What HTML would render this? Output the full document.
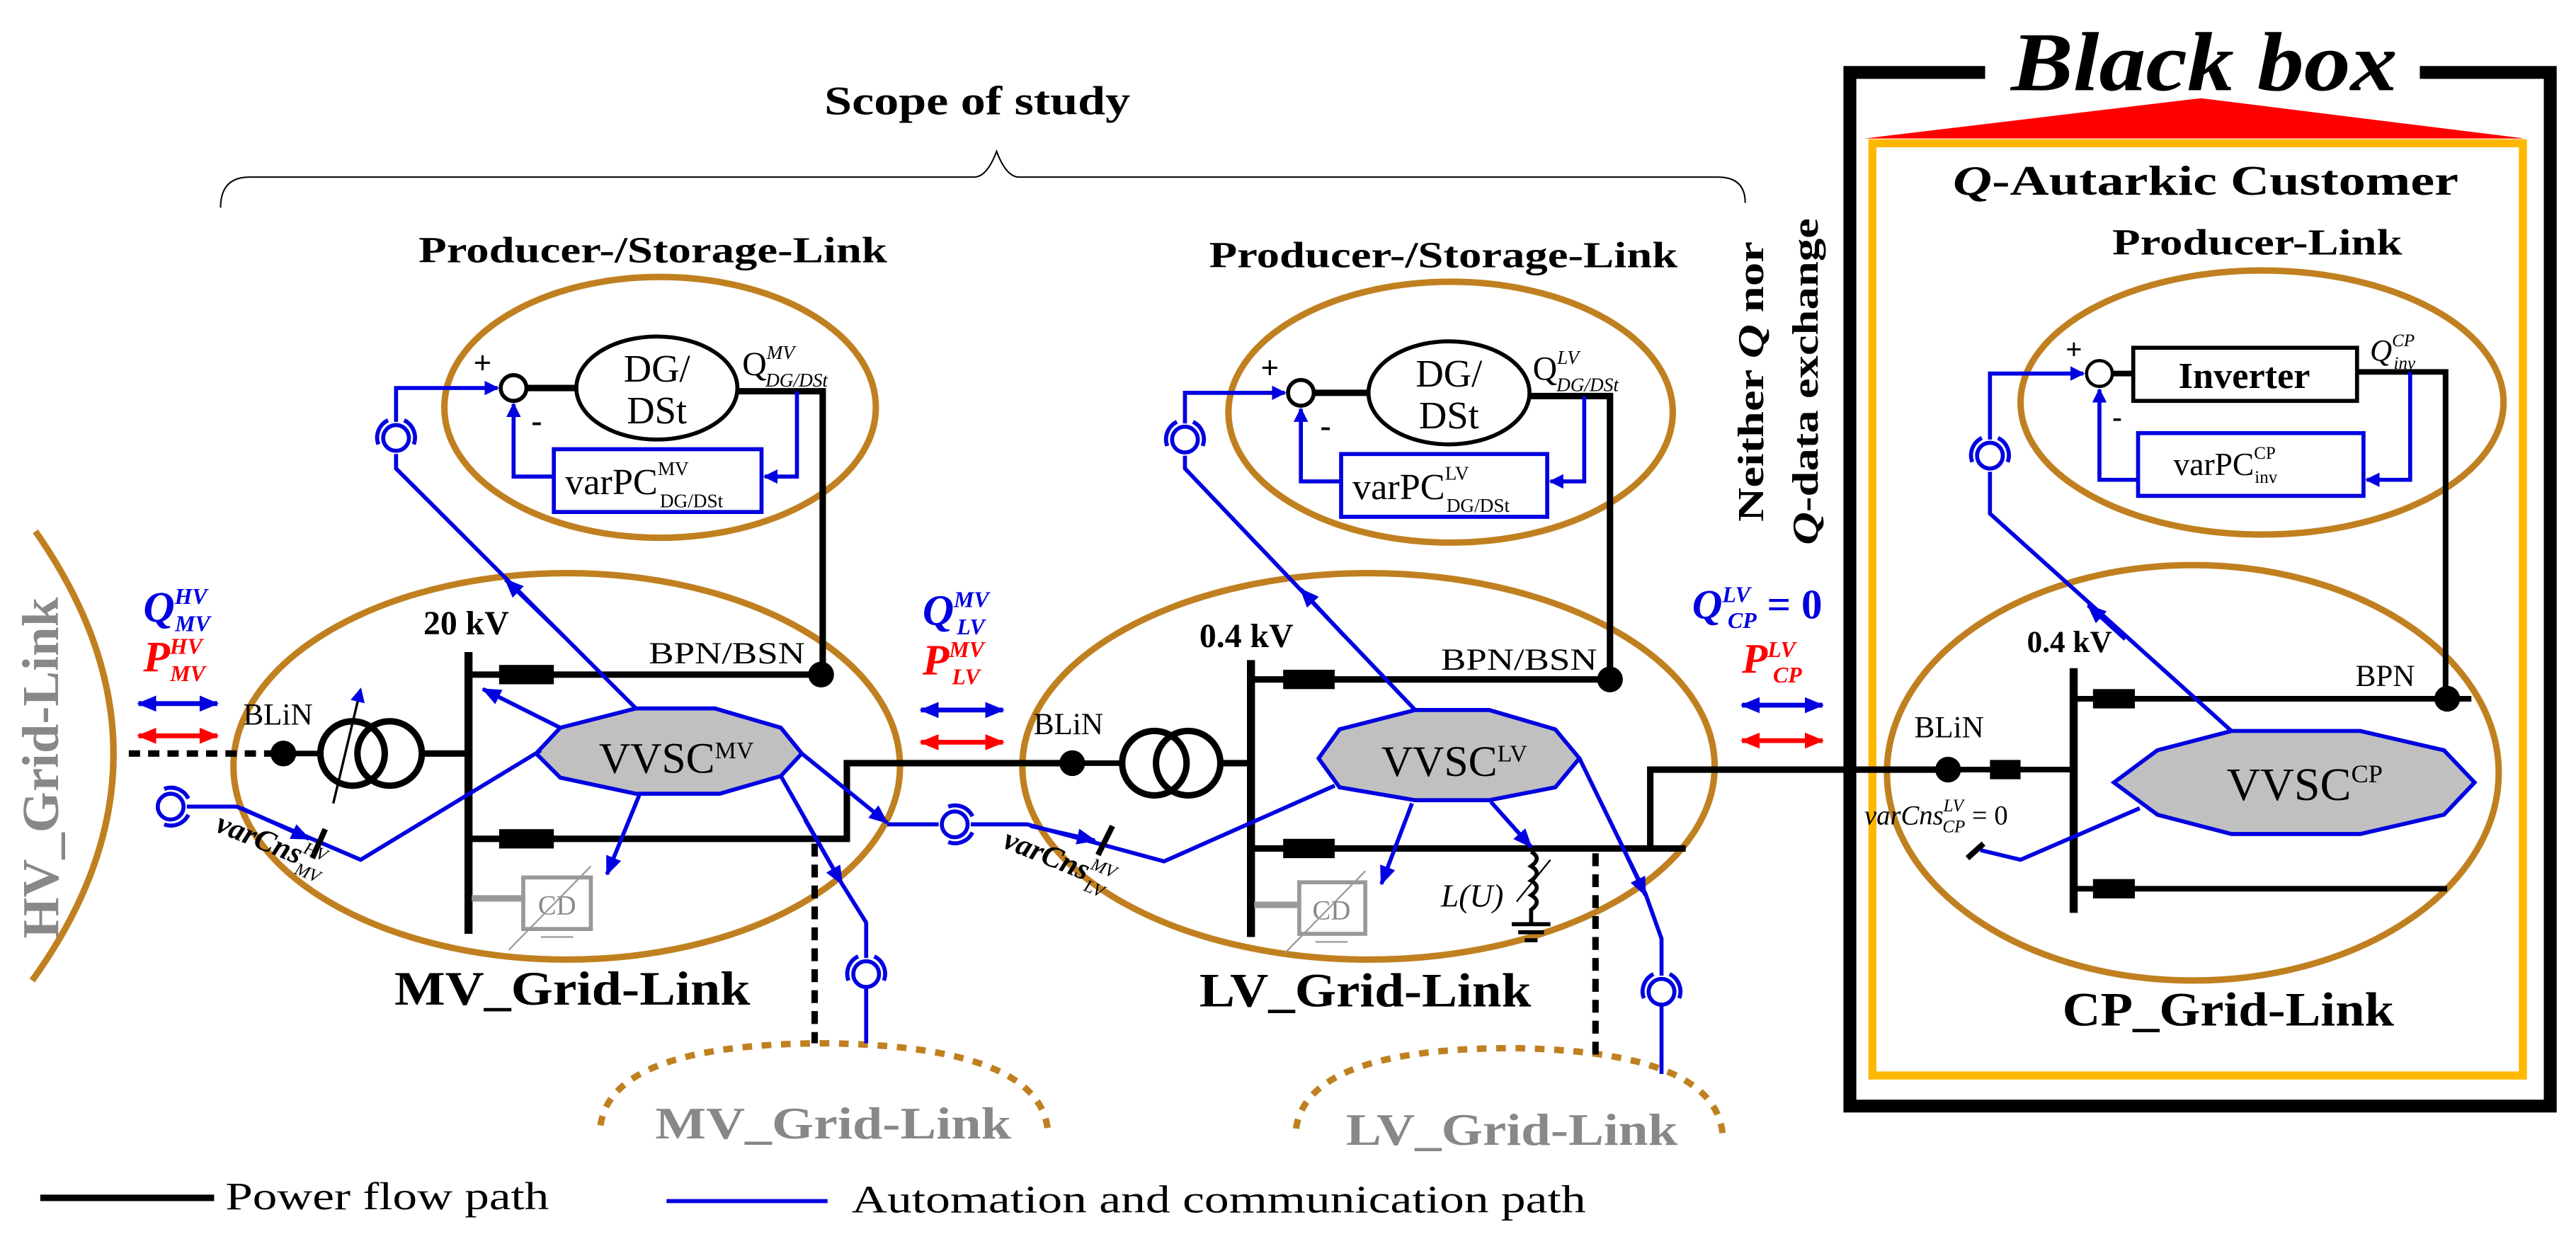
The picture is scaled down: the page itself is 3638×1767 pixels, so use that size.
<!DOCTYPE html>
<html><head><meta charset="utf-8"><style>
html,body{margin:0;padding:0;background:#fff}
svg{display:block}
text{font-family:"Liberation Serif",serif}
</style></head><body>
<svg width="3638" height="1767" viewBox="0 0 1600 777" preserveAspectRatio="none" xmlns="http://www.w3.org/2000/svg">
<defs>
<marker id="ab" markerWidth="9" markerHeight="9" refX="8" refY="4.5" orient="auto" markerUnits="userSpaceOnUse"><path d="M0,0 L9,4.5 L0,9 z" fill="#0000e0"/></marker>
<marker id="abs" markerWidth="12" markerHeight="10" refX="11" refY="5" orient="auto" markerUnits="userSpaceOnUse"><path d="M0,0 L12,5 L0,10 z" fill="#0000e0"/></marker>
<marker id="ars" markerWidth="12" markerHeight="10" refX="11" refY="5" orient="auto" markerUnits="userSpaceOnUse"><path d="M0,0 L12,5 L0,10 z" fill="#f00"/></marker>
<marker id="abr" markerWidth="12" markerHeight="10" refX="1" refY="5" orient="auto" markerUnits="userSpaceOnUse"><path d="M12,0 L0,5 L12,10 z" fill="#0000e0"/></marker>
<marker id="arr" markerWidth="12" markerHeight="10" refX="1" refY="5" orient="auto" markerUnits="userSpaceOnUse"><path d="M12,0 L0,5 L12,10 z" fill="#f00"/></marker>
<g id="ant" fill="none" stroke="#0000e0" stroke-width="2.5"><circle r="8"/><path d="M-11,4 A12,12 0 0 1 -5,-11 M11,4 A12,12 0 0 0 5,-11"/></g>
</defs>

<!-- Scope -->
<text x="512" y="71" font-size="25" font-weight="bold" textLength="190" lengthAdjust="spacingAndGlyphs">Scope of study</text>
<path d="M137,129 Q137,110 155,110 L605,110 Q613,110 619,94 Q625,110 633,110 L1067,110 Q1084,110 1084,126" fill="none" stroke="#000" stroke-width="0.9"/>

<text x="260" y="163" font-size="23" font-weight="bold" textLength="291" lengthAdjust="spacingAndGlyphs">Producer-/Storage-Link</text>
<text x="751" y="166" font-size="23" font-weight="bold" textLength="291" lengthAdjust="spacingAndGlyphs">Producer-/Storage-Link</text>

<!-- HV arc -->
<path d="M22,330 Q120,470 20,609" fill="none" stroke="#c08020" stroke-width="4"/>
<text transform="translate(36,477) rotate(-90)" font-size="32" font-weight="bold" fill="#888" text-anchor="middle" textLength="212" lengthAdjust="spacingAndGlyphs">HV_Grid-Link</text>

<!-- dashed arcs -->
<path d="M373,699 Q380,648 514,648 Q648,650 651,704" fill="none" stroke="#c08020" stroke-width="4" stroke-dasharray="6,6"/>
<text x="407" y="707" font-size="28" font-weight="bold" fill="#888" textLength="221" lengthAdjust="spacingAndGlyphs">MV_Grid-Link</text>
<path d="M805,701 Q812,651 940,651 Q1066,653 1070,705" fill="none" stroke="#c08020" stroke-width="4" stroke-dasharray="6,6"/>
<text x="836" y="711" font-size="28" font-weight="bold" fill="#888" textLength="206" lengthAdjust="spacingAndGlyphs">LV_Grid-Link</text>

<!-- Ellipses -->
<g fill="none" stroke="#c08020" stroke-width="4">
<ellipse cx="410" cy="253" rx="134" ry="81"/>
<ellipse cx="901" cy="256" rx="138" ry="81"/>
<ellipse cx="352" cy="476" rx="207" ry="120"/>
<ellipse cx="850" cy="476" rx="215" ry="120"/>
<ellipse cx="1362" cy="480" rx="190" ry="129"/>
<ellipse cx="1405" cy="250" rx="150" ry="82"/>
</g>

<!-- Black box -->
<polygon points="1158,86 1367,61 1568,86" fill="#f00"/>
<path d="M1233,45 L1149,45 L1149,687 L1584,687 L1584,45 L1503,45" fill="none" stroke="#000" stroke-width="8"/>
<text x="1249" y="56" font-size="52" font-weight="bold" font-style="italic" textLength="240" lengthAdjust="spacingAndGlyphs">Black box</text>
<rect x="1163" y="89" width="404" height="579" fill="none" stroke="#ffb800" stroke-width="5"/>
<text x="1213" y="121" font-size="26" font-weight="bold" textLength="314" lengthAdjust="spacingAndGlyphs"><tspan font-style="italic">Q</tspan>-Autarkic Customer</text>
<text x="1312" y="158" font-size="23" font-weight="bold" textLength="180" lengthAdjust="spacingAndGlyphs">Producer-Link</text>
<text transform="translate(1095,237) rotate(-90)" font-size="23" font-weight="bold" text-anchor="middle" textLength="174" lengthAdjust="spacingAndGlyphs">Neither <tspan font-style="italic">Q</tspan> nor</text>
<text transform="translate(1129,237) rotate(-90)" font-size="23" font-weight="bold" text-anchor="middle" textLength="203" lengthAdjust="spacingAndGlyphs"><tspan font-style="italic">Q</tspan>-data exchange</text>

<!-- ===== MV producer ===== -->
<circle cx="319" cy="241" r="8" fill="#fff" stroke="#000" stroke-width="2.5"/>
<text x="294" y="232" font-size="20" font-weight="bold">+</text>
<text x="330" y="268" font-size="20" font-weight="bold">-</text>
<line x1="327" y1="241" x2="358" y2="241" stroke="#000" stroke-width="4"/>
<ellipse cx="408" cy="241" rx="50" ry="32" fill="#fff" stroke="#000" stroke-width="2.5"/>
<text x="408" y="237" font-size="24" text-anchor="middle">DG/</text>
<text x="408" y="263" font-size="24" text-anchor="middle">DSt</text>
<polyline points="458,243 511,243 511,419" fill="none" stroke="#000" stroke-width="4"/>
<text x="461" y="233" font-size="21">Q<tspan font-size="12" font-style="italic" dy="-10">MV</tspan><tspan font-size="12" font-style="italic" dx="-18" dy="17">DG/DSt</tspan></text>
<rect x="344" y="279" width="129" height="39" fill="#fff" stroke="#0000e0" stroke-width="2.5"/>
<text x="351" y="307" font-size="23">varPC<tspan font-size="12" dy="-12">MV</tspan><tspan font-size="12" dx="-18" dy="20">DG/DSt</tspan></text>
<polyline points="495,243 495,296 475,296" fill="none" stroke="#0000e0" stroke-width="2.5" marker-end="url(#ab)"/>
<polyline points="344,296 319,296 319,251" fill="none" stroke="#0000e0" stroke-width="2.5" marker-end="url(#ab)"/>
<polyline points="246,262 246,241 309,241" fill="none" stroke="#0000e0" stroke-width="2.5" marker-end="url(#ab)"/>

<!-- ===== LV producer ===== -->
<circle cx="808" cy="244" r="8" fill="#fff" stroke="#000" stroke-width="2.5"/>
<text x="783" y="235" font-size="20" font-weight="bold">+</text>
<text x="820" y="271" font-size="20" font-weight="bold">-</text>
<line x1="816" y1="244" x2="850" y2="244" stroke="#000" stroke-width="4"/>
<ellipse cx="900" cy="244" rx="50" ry="32" fill="#fff" stroke="#000" stroke-width="2.5"/>
<text x="900" y="240" font-size="24" text-anchor="middle">DG/</text>
<text x="900" y="266" font-size="24" text-anchor="middle">DSt</text>
<polyline points="950,246 1000,246 1000,422" fill="none" stroke="#000" stroke-width="4"/>
<text x="952" y="236" font-size="21">Q<tspan font-size="12" font-style="italic" dy="-10">LV</tspan><tspan font-size="12" font-style="italic" dx="-14" dy="17">DG/DSt</tspan></text>
<rect x="833" y="282" width="128" height="39" fill="#fff" stroke="#0000e0" stroke-width="2.5"/>
<text x="840" y="310" font-size="23">varPC<tspan font-size="12" dy="-12">LV</tspan><tspan font-size="12" dx="-14" dy="20">DG/DSt</tspan></text>
<polyline points="984,246 984,299 963,299" fill="none" stroke="#0000e0" stroke-width="2.5" marker-end="url(#ab)"/>
<polyline points="833,299 808,299 808,254" fill="none" stroke="#0000e0" stroke-width="2.5" marker-end="url(#ab)"/>
<polyline points="736,263 736,244 798,244" fill="none" stroke="#0000e0" stroke-width="2.5" marker-end="url(#ab)"/>

<!-- Antennas -->
<use href="#ant" x="246" y="272"/>
<use href="#ant" x="736" y="273"/>
<use href="#ant" x="1236" y="283"/>
<use href="#ant" x="538" y="605"/>
<use href="#ant" x="1032" y="616"/>
<g transform="translate(106,501) rotate(90)"><use href="#ant"/></g>
<g transform="translate(593,512) rotate(90)"><use href="#ant"/></g>

<!-- ===== MV grid link ===== -->
<text x="263" y="394" font-size="21" font-weight="bold">20 kV</text>
<line x1="291" y1="405" x2="291" y2="580" stroke="#000" stroke-width="5"/>
<line x1="291" y1="419" x2="511" y2="419" stroke="#000" stroke-width="4"/>
<rect x="310" y="413" width="34" height="12" fill="#000"/>
<circle cx="510" cy="419" r="8" fill="#000"/>
<text x="403" y="412" font-size="19" textLength="97" lengthAdjust="spacingAndGlyphs">BPN/BSN</text>
<polyline points="291,521 526,521 526,474 666,474" fill="none" stroke="#000" stroke-width="4"/>
<rect x="310" y="515" width="34" height="12" fill="#000"/>
<line x1="80" y1="468" x2="172" y2="468" stroke="#000" stroke-width="4" stroke-dasharray="7,5"/>
<circle cx="176" cy="468" r="8" fill="#000"/>
<text x="151" y="450" font-size="19">BLiN</text>
<line x1="176" y1="468" x2="198" y2="468" stroke="#000" stroke-width="3.5"/>
<circle cx="219" cy="468" r="20" fill="none" stroke="#000" stroke-width="4"/>
<circle cx="242" cy="468" r="20" fill="none" stroke="#000" stroke-width="4"/>
<line x1="262" y1="468" x2="291" y2="468" stroke="#000" stroke-width="4"/>
<line x1="207" y1="499" x2="224" y2="428" stroke="#000" stroke-width="1.5" marker-end="url(#ab)"/>
<line x1="506" y1="524" x2="506" y2="648" stroke="#000" stroke-width="4" stroke-dasharray="8,5"/>
<line x1="293" y1="558" x2="325" y2="558" stroke="#999" stroke-width="4"/>
<rect x="325" y="545" width="42" height="32" fill="#fff" stroke="#999" stroke-width="2.5"/>
<text x="346" y="568" font-size="17" fill="#888" text-anchor="middle">CD</text>
<line x1="316" y1="590" x2="367" y2="538" stroke="#999" stroke-width="1"/>
<line x1="336" y1="582" x2="356" y2="582" stroke="#999" stroke-width="1"/>
<text x="245" y="624" font-size="30" font-weight="bold" textLength="221" lengthAdjust="spacingAndGlyphs">MV_Grid-Link</text>

<!-- ===== LV grid link ===== -->
<text x="745" y="402" font-size="21" font-weight="bold">0.4 kV</text>
<line x1="777" y1="410" x2="777" y2="582" stroke="#000" stroke-width="5"/>
<line x1="777" y1="422" x2="1000" y2="422" stroke="#000" stroke-width="4"/>
<rect x="797" y="416" width="32" height="12" fill="#000"/>
<circle cx="1000" cy="422" r="8" fill="#000"/>
<text x="895" y="416" font-size="19" textLength="97" lengthAdjust="spacingAndGlyphs">BPN/BSN</text>
<line x1="777" y1="527" x2="1047" y2="527" stroke="#000" stroke-width="4"/>
<polyline points="1025,527 1025,478 1210,478" fill="none" stroke="#000" stroke-width="4"/>
<rect x="797" y="521" width="32" height="12" fill="#000"/>
<circle cx="666" cy="474" r="8" fill="#000"/>
<text x="642" y="456" font-size="19">BLiN</text>
<line x1="666" y1="474" x2="696" y2="474" stroke="#000" stroke-width="3.5"/>
<circle cx="717" cy="474" r="20" fill="none" stroke="#000" stroke-width="4"/>
<circle cx="738" cy="474" r="20" fill="none" stroke="#000" stroke-width="4"/>
<line x1="758" y1="474" x2="777" y2="474" stroke="#000" stroke-width="4"/>
<line x1="991" y1="530" x2="991" y2="657" stroke="#000" stroke-width="4" stroke-dasharray="8,5"/>
<line x1="779" y1="562" x2="807" y2="562" stroke="#999" stroke-width="4"/>
<rect x="807" y="548" width="41" height="32" fill="#fff" stroke="#999" stroke-width="2.5"/>
<text x="827" y="571" font-size="17" fill="#888" text-anchor="middle">CD</text>
<line x1="798" y1="592" x2="848" y2="541" stroke="#999" stroke-width="1"/>
<line x1="817" y1="585" x2="837" y2="585" stroke="#999" stroke-width="1"/>
<text x="895" y="563" font-size="20" font-style="italic">L(U)</text>
<path d="M951,529 q7,4 0,9 q7,4 0,9 q7,4 0,9 q7,4 0,9 L951,574 M939,574 L963,574 M943,579 L959,579 M947,584 L955,584" fill="none" stroke="#000" stroke-width="2.5"/>
<line x1="942" y1="560" x2="963" y2="534" stroke="#000" stroke-width="1"/>
<text x="745" y="625" font-size="30" font-weight="bold" textLength="206" lengthAdjust="spacingAndGlyphs">LV_Grid-Link</text>

<!-- ===== CP grid link ===== -->
<text x="1259" y="405" font-size="19" font-weight="bold">0.4 kV</text>
<line x1="1288" y1="415" x2="1288" y2="567" stroke="#000" stroke-width="5"/>
<line x1="1288" y1="434" x2="1535" y2="434" stroke="#000" stroke-width="3.5"/>
<rect x="1300" y="428" width="26" height="12" fill="#000"/>
<circle cx="1520" cy="434" r="8" fill="#000"/>
<text x="1463" y="426" font-size="19">BPN</text>
<polyline points="1464,231 1519,231 1519,434" fill="none" stroke="#000" stroke-width="3.5"/>
<line x1="1210" y1="478" x2="1288" y2="478" stroke="#000" stroke-width="3.5"/>
<circle cx="1210" cy="478" r="8" fill="#000"/>
<rect x="1236" y="472" width="19" height="12" fill="#000"/>
<text x="1189" y="458" font-size="19">BLiN</text>
<line x1="1288" y1="552" x2="1520" y2="552" stroke="#000" stroke-width="3.5"/>
<rect x="1300" y="546" width="26" height="12" fill="#000"/>
<text x="1158" y="512" font-size="17"><tspan font-style="italic">varCns</tspan><tspan font-size="11" font-style="italic" dy="-8">LV</tspan><tspan font-size="11" font-style="italic" dx="-13" dy="13">CP</tspan><tspan dy="-5"> = 0</tspan></text>
<text x="1281" y="637" font-size="30" font-weight="bold" textLength="206" lengthAdjust="spacingAndGlyphs">CP_Grid-Link</text>

<!-- CP producer -->
<circle cx="1304" cy="232" r="8" fill="#fff" stroke="#000" stroke-width="2"/>
<text x="1283" y="223" font-size="18" font-weight="bold">+</text>
<text x="1312" y="265" font-size="18" font-weight="bold">-</text>
<line x1="1312" y1="232" x2="1325" y2="232" stroke="#000" stroke-width="3.5"/>
<rect x="1325" y="216" width="139" height="33" fill="#fff" stroke="#000" stroke-width="2.5"/>
<text x="1394" y="241" font-size="23" font-weight="bold" text-anchor="middle">Inverter</text>
<text x="1472" y="224" font-size="19" font-style="italic">Q<tspan font-size="11" dy="-9">CP</tspan><tspan font-size="11" dx="-13" dy="14">inv</tspan></text>
<rect x="1328" y="269" width="140" height="39" fill="#fff" stroke="#0000e0" stroke-width="2.5"/>
<text x="1350" y="295" font-size="20">varPC<tspan font-size="11" dy="-10">CP</tspan><tspan font-size="11" dx="-13" dy="15">inv</tspan></text>
<polyline points="1497,231 1497,298 1470,298" fill="none" stroke="#0000e0" stroke-width="2.5" marker-end="url(#ab)"/>
<polyline points="1328,298 1304,298 1304,242" fill="none" stroke="#0000e0" stroke-width="2.5" marker-end="url(#ab)"/>
<polyline points="1236,273 1236,232 1294,232" fill="none" stroke="#0000e0" stroke-width="2.5" marker-end="url(#ab)"/>

<!-- VVSC octagons -->
<g fill="#c0c0c0" stroke="#0000e0" stroke-width="2.5">
<polygon points="333,468 348,452 395,440 444,440 485,452 498,468 485,482 447,493 395,493 348,483"/>
<polygon points="819,471 832,453 879,441 925,441 966,453 981,471 966,489 925,497 879,497 832,489"/>
<polygon points="1313,486 1340,466 1386,454 1466,454 1518,466 1537,486 1518,506 1466,518 1386,518 1340,506"/>
</g>
<text x="372" y="480" font-size="27">VVSC<tspan font-size="15" dy="-9">MV</tspan></text>
<text x="858" y="482" font-size="27">VVSC<tspan font-size="15" dy="-9">LV</tspan></text>
<text x="1383" y="497" font-size="29">VVSC<tspan font-size="16" dy="-11">CP</tspan></text>

<!-- blue comm lines -->
<g fill="none" stroke="#0000e0" stroke-width="2.5">
<!-- MV -->
<polyline points="246,282 246,291 395,440"/>
<line x1="350" y1="395" x2="314" y2="360" marker-end="url(#abs)"/>
<line x1="348" y1="452" x2="300" y2="428" marker-end="url(#abs)"/>
<line x1="397" y1="494" x2="377" y2="543" marker-end="url(#abs)"/>
<line x1="498" y1="468" x2="551" y2="511" marker-end="url(#abs)"/>
<polyline points="485,482 523,549 538,573 538,595"/>
<line x1="500" y1="509" x2="523" y2="549" marker-end="url(#abs)"/>
<line x1="538" y1="613" x2="538" y2="648"/>
<polyline points="116,501 147,501 224,534 336,466"/>
<line x1="150" y1="502" x2="192" y2="521" marker-end="url(#abs)"/>
<line x1="551" y1="512" x2="583" y2="512"/>
<!-- LV -->
<polyline points="603,512 638,512 723,535 829,488"/>
<line x1="640" y1="513" x2="680" y2="522" marker-end="url(#abs)"/>
<polyline points="736,283 736,291 879,441"/>
<line x1="835" y1="395" x2="808" y2="366" marker-end="url(#abs)"/>
<line x1="877" y1="499" x2="858" y2="549" marker-end="url(#abs)"/>
<line x1="926" y1="498" x2="951" y2="526" marker-end="url(#abs)"/>
<polyline points="981,471 1022,555 1032,583 1032,606"/>
<line x1="1005" y1="520" x2="1022" y2="556" marker-end="url(#abs)"/>
<line x1="1032" y1="624" x2="1032" y2="667"/>
<!-- CP -->
<polyline points="1236,293 1236,319 1386,454"/>
<line x1="1320" y1="397" x2="1297" y2="376" marker-end="url(#abs)"/>
<polyline points="1329,502 1255,534 1230,528"/>
</g>
<!-- tick marks -->
<line x1="194" y1="533" x2="202" y2="515" stroke="#000" stroke-width="3.5"/>
<line x1="682" y1="531" x2="691" y2="513" stroke="#000" stroke-width="3.5"/>
<line x1="1222" y1="533" x2="1232" y2="524" stroke="#000" stroke-width="3.5"/>
<text transform="translate(133,516) rotate(22)" font-size="19"><tspan font-style="italic" font-weight="bold">varCns</tspan><tspan font-size="11" font-style="italic" dy="-8">HV</tspan><tspan font-size="11" font-style="italic" dx="-15" dy="14">MV</tspan></text>
<text transform="translate(622,526) rotate(22)" font-size="19"><tspan font-style="italic" font-weight="bold">varCns</tspan><tspan font-size="11" font-style="italic" dy="-8">MV</tspan><tspan font-size="11" font-style="italic" dx="-15" dy="14">LV</tspan></text>

<!-- Q/P labels -->
<g font-weight="bold" font-style="italic">
<text x="89" y="386" font-size="27" fill="#0000e0">Q<tspan font-size="14" dy="-11">HV</tspan><tspan font-size="14" dx="-20" dy="17">MV</tspan></text>
<text x="89" y="417" font-size="27" fill="#f00">P<tspan font-size="14" dy="-11">HV</tspan><tspan font-size="14" dx="-20" dy="17">MV</tspan></text>
<text x="573" y="388" font-size="27" fill="#0000e0">Q<tspan font-size="14" dy="-11">MV</tspan><tspan font-size="14" dx="-20" dy="17">LV</tspan></text>
<text x="573" y="419" font-size="27" fill="#f00">P<tspan font-size="14" dy="-11">MV</tspan><tspan font-size="14" dx="-20" dy="17">LV</tspan></text>
<text x="1051" y="384" font-size="26" fill="#0000e0">Q<tspan font-size="14" dy="-10">LV</tspan><tspan font-size="14" dx="-14" dy="16">CP</tspan><tspan font-style="normal" dy="-6"> = 0</tspan></text>
<text x="1082" y="418" font-size="26" fill="#f00">P<tspan font-size="14" dy="-10">LV</tspan><tspan font-size="14" dx="-14" dy="16">CP</tspan></text>
</g>
<g stroke-width="3">
<line x1="86" y1="437" x2="135" y2="437" stroke="#0000e0" marker-start="url(#abr)" marker-end="url(#abs)"/>
<line x1="86" y1="457" x2="135" y2="457" stroke="#f00" marker-start="url(#arr)" marker-end="url(#ars)"/>
<line x1="572" y1="441" x2="623" y2="441" stroke="#0000e0" marker-start="url(#abr)" marker-end="url(#abs)"/>
<line x1="572" y1="461" x2="623" y2="461" stroke="#f00" marker-start="url(#arr)" marker-end="url(#ars)"/>
<line x1="1082" y1="438" x2="1132" y2="438" stroke="#0000e0" marker-start="url(#abr)" marker-end="url(#abs)"/>
<line x1="1082" y1="460" x2="1132" y2="460" stroke="#f00" marker-start="url(#arr)" marker-end="url(#ars)"/>
</g>

<!-- legend -->
<line x1="25" y1="744" x2="133" y2="744" stroke="#000" stroke-width="4"/>
<text x="140" y="751" font-size="24" textLength="201" lengthAdjust="spacingAndGlyphs">Power flow path</text>
<line x1="414" y1="746" x2="514" y2="746" stroke="#0000e0" stroke-width="2.5"/>
<text x="529" y="753" font-size="24" textLength="456" lengthAdjust="spacingAndGlyphs">Automation and communication path</text>
</svg>
</body></html>
